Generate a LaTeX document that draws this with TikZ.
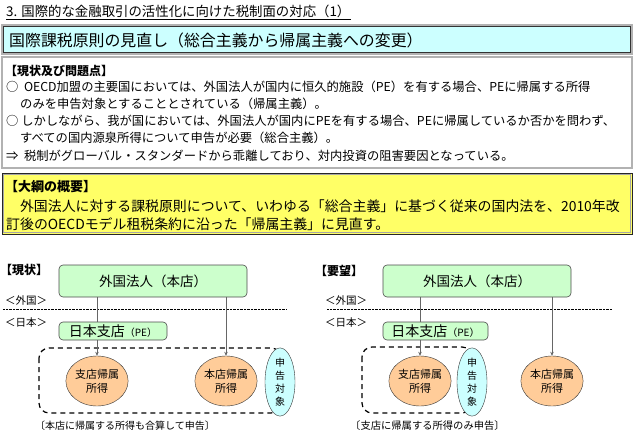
\documentclass[tikz,border=0pt]{standalone}
\usepackage{fontspec}
\setmainfont{Noto Sans CJK JP}
\usetikzlibrary{arrows.meta,positioning,shapes.geometric,calc}
\definecolor{cyanbg}{HTML}{CCFFFF}
\definecolor{yellowbg}{HTML}{FFFF66}
\definecolor{greenbg}{HTML}{CCFFCC}
\definecolor{orangebg}{HTML}{FFCC99}
\tikzset{
  txt/.style={anchor=west, inner sep=0pt, font=\fontsize{12.3}{14}\selectfont},
  corp/.style={draw=black!70, fill=greenbg, rounded corners=4pt, line width=0.6pt, inner sep=0pt},
  income/.style={ellipse, draw=black!80, fill=orangebg, align=center, inner sep=0pt,
    minimum width=52pt, minimum height=50pt, font=\fontsize{11}{14}\selectfont},
  taxed/.style={ellipse, draw=black!80, fill=cyanbg, align=center, inner sep=0pt,
    minimum width=30pt, minimum height=57pt, font=\fontsize{10}{13}\selectfont},
  flow/.style={draw=black!60, line width=0.5pt},
  tip/.style={flow, -{Stealth[length=4pt,width=3.5pt]}},
  scopebox/.style={line width=1.2pt, dash pattern=on 5pt off 4pt, rounded corners=10pt},
  border/.style={dash pattern=on 0.7pt off 0.7pt, line width=0.7pt},
}
\begin{document}
\begin{tikzpicture}[x=1pt,y=-1pt]
\useasboundingbox (0,0) rectangle (635,433);

% title
\node[txt, font=\fontsize{13.4}{16}\selectfont] (title) at (6,11) {3. 国際的な金融取引の活性化に向けた税制面の対応（1）};
\draw[line width=0.7pt] ([yshift=-2pt]title.south west) -- ([yshift=-2pt]title.south east);

% headline band
\draw[gray!60, line width=2pt, fill=cyanbg] (2,25) rectangle (632,54);
\draw[black!80, line width=0.5pt] (3.5,26.5) rectangle (630.5,52.5);
\node[txt, font=\fontsize{15.9}{18}\selectfont] (band) at (9,40) {国際課税原則の見直し（総合主義から帰属主義への変更）};

% current state and problems
\draw[gray!60, line width=1.5pt] (2,57) rectangle (632,168);
\node[txt, font=\fontsize{12}{14}\bfseries\selectfont] (probhead) at (5,71) {【現状及び問題点】};
\node[txt] (prob1) at (6,87) {○\ \ OECD加盟の主要国においては、外国法人が国内に恒久的施設（PE）を有する場合、PEに帰属する所得};
\node[txt] (prob1b) at (20,104) {のみを申告対象とすることとされている（帰属主義）。};
\node[txt] (prob2) at (6,121) {○\ しかしながら、我が国においては、外国法人が国内にPEを有する場合、PEに帰属しているか否かを問わず、};
\node[txt] (prob2b) at (20,138) {すべての国内源泉所得について申告が必要（総合主義）。};
\node[txt] (prob3) at (6,156) {⇒\ \ 税制がグローバル・スタンダードから乖離しており、対内投資の阻害要因となっている。};

% outline of the reform
\draw[black!85, line width=0.8pt, fill=yellowbg] (2,173) rectangle (632,234);
\draw[gray!70, line width=0.6pt] (3.5,174.5) rectangle (630.5,232.5);
\node[txt, font=\fontsize{13}{15}\bfseries\selectfont] (planhead) at (5,187) {【大綱の概要】};
\node[txt, font=\fontsize{13.9}{15}\selectfont] (plan1) at (6,206) {\hspace{1em}外国法人に対する課税原則について、いわゆる「総合主義」に基づく従来の国内法を、2010年改};
\node[txt, font=\fontsize{13.9}{15}\selectfont] (plan2) at (6,224) {訂後のOECDモデル租税条約に沿った「帰属主義」に見直す。};

% ---- left: current state
\node[txt, font=\fontsize{12}{14}\bfseries\selectfont] (nowhead) at (0,270) {【現状】};
\node[txt, font=\fontsize{10.5}{12}\selectfont] (abroadL) at (5,301) {＜外国＞};
\node[txt, font=\fontsize{10.5}{12}\selectfont] (japanL) at (5,323) {＜日本＞};
\draw[border] (3,309) -- (287,309);
\node[corp, minimum width=188pt, minimum height=32pt, font=\fontsize{13.5}{16}\selectfont] (hqL) at (153,281) {外国法人（本店）};
\node[corp, minimum width=108pt, minimum height=18pt, font=\fontsize{14}{16}\selectfont] (peL) at (113,331) {日本支店{\fontsize{10}{12}\selectfont（PE）}};
\draw[scopebox] (39,348) rectangle (281,413);
\node[income] (brL) at (97,381) {支店帰属\\所得};
\node[income] (mainL) at (226,381) {本店帰属\\所得};
\node[taxed] (taxL) at (280,382) {申\\告\\対\\象};
\draw[flow] (hqL.south -| brL) -- (peL.north -| brL);
\draw[tip] (peL.south -| brL) -- (brL.north);
\draw[tip] (hqL.south -| mainL) -- (mainL.north);
\node[txt, font=\fontsize{10}{12}\selectfont] (capL) at (35,426) {〔本店に帰属する所得も合算して申告〕};

% ---- right: request
\node[txt, font=\fontsize{12}{14}\bfseries\selectfont] (askhead) at (315,271) {【要望】};
\node[txt, font=\fontsize{10.5}{12}\selectfont] (abroadR) at (325,301) {＜外国＞};
\node[txt, font=\fontsize{10.5}{12}\selectfont] (japanR) at (325,323) {＜日本＞};
\draw[border] (327,309) -- (612,309);
\node[corp, minimum width=188pt, minimum height=32pt, font=\fontsize{13.5}{16}\selectfont] (hqR) at (477,281) {外国法人（本店）};
\node[corp, minimum width=105pt, minimum height=18pt, font=\fontsize{14}{16}\selectfont] (peR) at (435.5,331) {日本支店{\fontsize{10}{12}\selectfont（PE）}};
\draw[scopebox] (362,347) rectangle (472,413);
\node[income] (brR) at (420,381) {支店帰属\\所得};
\node[income] (mainR) at (552,381) {本店帰属\\所得};
\node[taxed] (taxR) at (472,382) {申\\告\\対\\象};
\draw[flow] (hqR.south -| brR) -- (peR.north -| brR);
\draw[tip] (peR.south -| brR) -- (brR.north);
\draw[tip] (hqR.south -| mainR) -- (mainR.north);
\node[txt, font=\fontsize{10.3}{12}\selectfont] (capR) at (350,426) {〔支店に帰属する所得のみ申告〕};
\end{tikzpicture}
\end{document}
